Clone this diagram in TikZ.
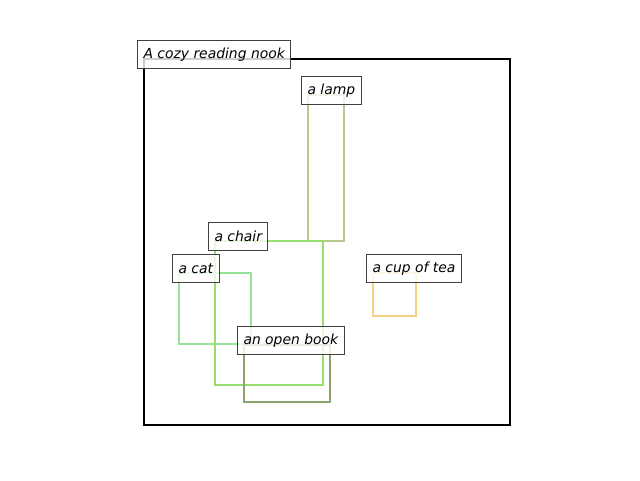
\documentclass[tikz,border=0pt]{standalone}
\usepackage{fontspec}
\setmainfont{DejaVu Sans}
\usetikzlibrary{positioning}
\definecolor{lampcol}{RGB}{182,202,140}
\definecolor{chaircol}{RGB}{150,222,110}
\definecolor{catcol}{RGB}{150,226,150}
\definecolor{bookcol}{RGB}{142,162,112}
\definecolor{teacol}{RGB}{242,210,128}
\definecolor{tagedge}{RGB}{64,64,64}
\tikzstyle{region} = [rectangle, draw, line width=2pt, inner sep=0pt, outer sep=0pt, anchor=north west]
\tikzstyle{tag} = [rectangle, draw=tagedge, line width=1pt, fill=white, fill opacity=0.8, text opacity=1, inner xsep=6pt, inner ysep=0pt, minimum height=28pt, anchor=west, font=\fontsize{13.9}{16}\selectfont\itshape]

\begin{document}
\begin{tikzpicture}[x=1pt, y=-1pt]
    \useasboundingbox (0,0) rectangle (640,480);
    \node [region, draw=black, minimum width=366pt, minimum height=366pt] at (144,59) (nook) {};
    \node [region, draw=lampcol, minimum width=36pt, minimum height=146pt] at (308,95) (lamp) {};
    \node [region, draw=chaircol, minimum width=108pt, minimum height=144pt] at (215,241) (chair) {};
    \node [region, draw=catcol, minimum width=72pt, minimum height=71pt] at (179,273) (cat) {};
    \node [region, draw=bookcol, minimum width=86pt, minimum height=57pt] at (244,345) (book) {};
    \node [region, draw=teacol, minimum width=43pt, minimum height=43pt] at (373,273) (tea) {};
    \node [tag] at ([shift={(-7,-4.5)}]nook.north west) (nooktag) {A cozy reading nook};
    \node [tag] at ([shift={(-7,-4.5)}]lamp.north west) (lamptag) {a lamp};
    \node [tag] at ([shift={(-7,-4.5)}]chair.north west) (chairtag) {a chair};
    \node [tag] at ([shift={(-7,-4.5)}]cat.north west) (cattag) {a cat};
    \node [tag] at ([shift={(-7,-4.5)}]book.north west) (booktag) {an open book};
    \node [tag] at ([shift={(-7,-4.5)}]tea.north west) (teatag) {a cup of tea};
\end{tikzpicture}
\end{document}
